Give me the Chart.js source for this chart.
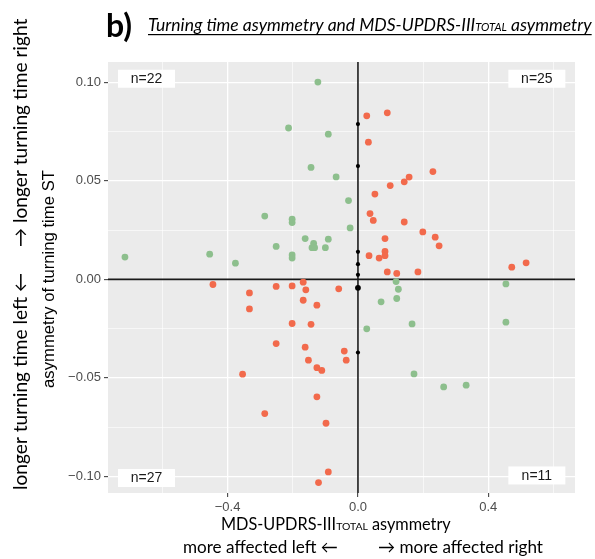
<!DOCTYPE html>
<html><head><meta charset="utf-8">
<script src="https://cdn.jsdelivr.net/npm/chart.js@4/dist/chart.umd.min.js"></script>
<style>html,body{margin:0;padding:0;background:#fff}canvas{display:block}</style>
</head><body>
<canvas id="c" width="595" height="559"></canvas>
<script>
// ---------- data ----------
const greenX = [-0.123,-0.213,-0.091,-0.144,-0.067,-0.029,-0.286,-0.202,-0.202,-0.024,-0.162,-0.091,-0.136,-0.251,-0.141,-0.133,-0.100,-0.455,-0.202,-0.715,-0.202,-0.376,
                0.117,0.124,0.119,0.071,0.166,0.027,0.454,0.454,0.172,0.263,0.332];
const greenY = [0.1001,0.0768,0.0737,0.0568,0.0520,0.0400,0.0321,0.0305,0.0288,0.0261,0.0207,0.0204,0.0183,0.0167,0.0161,0.0161,0.0161,0.0128,0.0124,0.0113,0.0108,0.0082,
                -0.0011,-0.0050,-0.0097,-0.0114,-0.0226,-0.0251,-0.0023,-0.0217,-0.0480,-0.0546,-0.0537];
const redX = [0.027,0.090,0.032,0.230,0.157,0.142,0.099,0.052,0.037,0.047,0.142,0.199,0.237,0.083,0.249,0.083,0.083,0.034,0.065,0.090,0.119,0.184,0.472,0.516,
              -0.445,-0.333,-0.333,-0.251,-0.202,-0.168,-0.160,-0.059,-0.168,-0.126,-0.202,-0.144,-0.251,-0.162,-0.042,-0.036,-0.152,-0.126,-0.111,-0.354,-0.126,-0.286,-0.098,-0.091,-0.121];
const redY = [0.0830,0.0845,0.0696,0.0547,0.0519,0.0495,0.0476,0.0433,0.0334,0.0299,0.0291,0.0241,0.0214,0.0207,0.0170,0.0142,0.0120,0.0120,0.0108,0.0038,0.0030,0.0038,0.0062,0.0084,
              -0.0026,-0.0069,-0.0150,-0.0036,-0.0033,-0.0014,-0.0053,-0.0048,-0.0106,-0.0131,-0.0224,-0.0228,-0.0326,-0.0344,-0.0364,-0.0410,-0.0410,-0.0448,-0.0462,-0.0481,-0.0596,-0.0681,-0.0730,-0.0977,-0.1031];
const blackX = [0,0,0,0,0,0,0];
const blackY = [0.0788,0.0575,0.0140,0.0077,0.0023,-0.0043,-0.0371];

const xTickValues = [-0.4, 0, 0.4];
const xTickLabels = ['\u22120.4', '0.0', '0.4'];
const xMinorValues = [-0.6, -0.2, 0.2, 0.6];
const yTickValues = [-0.10, -0.05, 0, 0.05, 0.10];
const yTickLabels = ['\u22120.10', '\u22120.05', '0.00', '0.05', '0.10'];
const yMinorValues = [-0.075, -0.025, 0.025, 0.075];

const nLabelText = ['n=22', 'n=25', 'n=27', 'n=11'];
const nLabelX = [-0.649, 0.549, -0.649, 0.549];
const nLabelY = [0.1018, 0.1018, -0.1008, -0.0995];

// ---------- style ----------
const GREEN = '#8DBF8D';
const RED = '#F26A4C';
const SANS = '"Liberation Sans", Arial, sans-serif';
const HUM = 'Lato, "DejaVu Sans", sans-serif';
const blackR = [2.1,2.1,2.1,2.1,2.1,2.9,2.1];

const pts = (xs, ys) => xs.map((x, i) => ({x, y: ys[i]}));
const isMajor = (v, arr) => arr.some(a => Math.abs(a - v) < 1e-9);

function fitMixed(ctx, parts, family, style, target, base) {
  let w = 0;
  parts.forEach(p => { ctx.font = `${style} ${base * p.s}px ${family}`; w += ctx.measureText(p.t).width; });
  return base * target / w;
}
function drawMixed(ctx, parts, x, y, family, style, size) {
  let cx = x;
  parts.forEach(p => {
    ctx.font = `${style} ${size * p.s}px ${family}`;
    ctx.fillText(p.t, cx, y);
    cx += ctx.measureText(p.t).width;
  });
  return cx - x;
}
function fitText(ctx, text, family, style, target, base) {
  ctx.font = `${style} ${base}px ${family}`;
  return base * target / ctx.measureText(text).width;
}

const decor = {
  id: 'decor',
  beforeDraw(chart) {
    const {ctx, chartArea: a} = chart;
    ctx.save();
    ctx.fillStyle = '#fff';
    ctx.fillRect(0, 0, chart.width, chart.height);
    ctx.fillStyle = '#EBEBEB';
    ctx.fillRect(a.left, a.top, a.right - a.left, a.bottom - a.top);
    ctx.restore();
  },
  beforeDatasetsDraw(chart) {
    const {ctx, chartArea: a, scales: {x, y}} = chart;
    ctx.save();
    ctx.strokeStyle = '#1A1A1A';
    ctx.lineWidth = 1.6;
    const x0 = x.getPixelForValue(0), y0 = y.getPixelForValue(0);
    ctx.beginPath(); ctx.moveTo(x0, a.top); ctx.lineTo(x0, a.bottom); ctx.stroke();
    ctx.beginPath(); ctx.moveTo(a.left, y0); ctx.lineTo(a.right, y0); ctx.stroke();
    ctx.restore();
  },
  afterDatasetsDraw(chart) {
    const {ctx, scales: {x, y}} = chart;
    ctx.save();
    nLabelText.forEach((t, i) => {
      const px = x.getPixelForValue(nLabelX[i]), py = y.getPixelForValue(nLabelY[i]);
      ctx.fillStyle = '#fff';
      ctx.fillRect(px - 28.5, py - 9, 57, 18);
      ctx.fillStyle = '#1A1A1A';
      ctx.font = `14px ${SANS}`;
      ctx.textAlign = 'center'; ctx.textBaseline = 'middle';
      ctx.fillText(t, px, py + 0.5);
    });
    ctx.restore();
  },
  afterDraw(chart) {
    const {ctx} = chart;
    ctx.save();
    ctx.fillStyle = '#000';
    ctx.textBaseline = 'alphabetic';
    ctx.textAlign = 'left';
    // panel letter
    ctx.font = `bold 32px ${HUM}`;
    ctx.fillText('b)', 106, 37);
    // title
    const tParts = [{t: 'Turning time asymmetry and MDS-UPDRS-III', s: 1}, {t: 'TOTAL', s: 0.64}, {t: ' asymmetry', s: 1}];
    const ts = fitMixed(ctx, tParts, HUM, 'italic', 444, 16);
    const tw = drawMixed(ctx, tParts, 148, 31, HUM, 'italic', ts);
    ctx.fillRect(148, 34, tw, 1.2);
    // x title
    const xParts = [{t: 'MDS-UPDRS-III', s: 1}, {t: 'TOTAL', s: 0.64}, {t: ' asymmetry', s: 1}];
    const xs = fitMixed(ctx, xParts, HUM, '', 230, 16);
    drawMixed(ctx, xParts, 221, 530, HUM, '', xs);
    const l2s = fitText(ctx, 'more affected left \u2190', HUM, '', 155, 16);
    ctx.font = `${l2s}px ${HUM}`;
    ctx.fillText('more affected left \u2190', 183, 553);
    ctx.fillText('\u2192 more affected right', 378, 553);
    // y title (ggplot)
    ctx.save();
    ctx.translate(54, 279);
    ctx.rotate(-Math.PI / 2);
    const ys = fitText(ctx, 'asymmetry of turning time ST', SANS, '', 218, 14);
    ctx.font = `${ys}px ${SANS}`;
    ctx.textAlign = 'center';
    ctx.fillStyle = '#000';
    ctx.fillText('asymmetry of turning time ST', 0, 0);
    ctx.restore();
    // outer y labels
    const os = fitText(ctx, 'longer turning time left \u2190', HUM, '', 217, 16);
    ctx.save();
    ctx.translate(27, 490);
    ctx.rotate(-Math.PI / 2);
    ctx.font = `${os}px ${HUM}`;
    ctx.fillText('longer turning time left \u2190', 0, 0);
    ctx.restore();
    ctx.save();
    ctx.translate(27, 247);
    ctx.rotate(-Math.PI / 2);
    ctx.font = `${os}px ${HUM}`;
    ctx.fillText('\u2192 longer turning time right', 0, 0);
    ctx.restore();
    ctx.restore();
  }
};

function axisCfg(majors, labels, minors, min, max) {
  return {
    type: 'linear', min, max,
    afterBuildTicks: s => { s.ticks = majors.concat(minors).sort((a, b) => a - b).map(v => ({value: v})); },
    border: {display: false},
    grid: {
      color: '#FFFFFF',
      lineWidth: c => isMajor(c.tick.value, majors) ? 1.3 : 0.6,
      tickColor: c => isMajor(c.tick.value, majors) ? '#333333' : 'rgba(0,0,0,0)',
      tickLength: 4, tickWidth: 1, drawTicks: true, drawOnChartArea: true
    },
    ticks: {
      autoSkip: false, maxRotation: 0, minRotation: 0, padding: 3,
      color: '#4D4D4D', font: {family: SANS, size: 13},
      callback: v => { const i = majors.findIndex(a => Math.abs(a - v) < 1e-9); return i >= 0 ? labels[i] : ''; }
    }
  };
}

const xCfg = axisCfg(xTickValues, xTickLabels, xMinorValues, -0.767, 0.666);
xCfg.afterFit = s => { s.height = 66; };
const yCfg = axisCfg(yTickValues, yTickLabels, yMinorValues, -0.1084, 0.1103);
yCfg.afterFit = s => { s.width = 108; };

new Chart(document.getElementById('c'), {
  type: 'scatter',
  data: {datasets: [
    {data: pts(greenX, greenY), backgroundColor: GREEN, borderWidth: 0, pointRadius: 3.4, pointHoverRadius: 3.4},
    {data: pts(redX, redY), backgroundColor: RED, borderWidth: 0, pointRadius: 3.4, pointHoverRadius: 3.4},
    {data: pts(blackX, blackY), backgroundColor: '#000', borderWidth: 0, pointRadius: blackR, pointHoverRadius: blackR}
  ]},
  options: {
    responsive: false, animation: false, devicePixelRatio: 1,
    layout: {padding: {left: 0, right: 20, top: 62, bottom: 0}},
    plugins: {legend: {display: false}, tooltip: {enabled: false}},
    events: [],
    scales: {x: xCfg, y: yCfg}
  },
  plugins: [decor]
});
</script>
</body></html>
